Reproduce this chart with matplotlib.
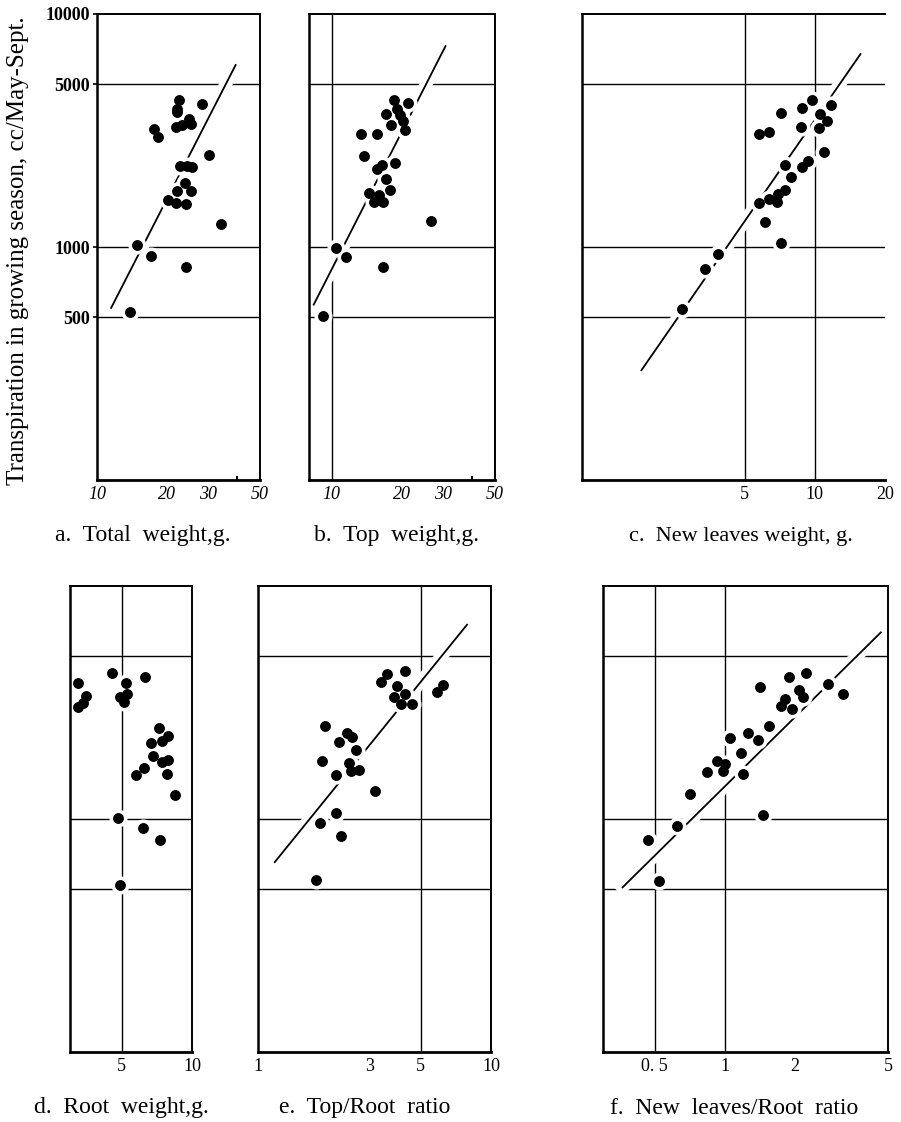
import numpy as np
import matplotlib
matplotlib.use('Agg')
import matplotlib.pyplot as plt
import matplotlib.patheffects as pe
from matplotlib.ticker import FixedLocator, FixedFormatter, NullLocator, NullFormatter

plt.rcParams['font.family'] = ['Liberation Serif', 'DejaVu Serif']

# ---- values (cc transpired May-Sept.) ----
total_weight = [13.8, 14.8, 17.0, 17.5, 18.3, 20.2, 21.9, 22.0, 22.8, 22.4, 22.0, 22.0, 21.8,
                23.1, 23.8, 24.0, 24.0, 24.3, 25.5, 25.3, 24.7, 25.3, 28.1, 30.2, 34.1]
transp_a = [524, 1018, 916, 3200, 2978, 1588, 1539, 1741, 2229, 4264, 3926, 3786, 3266,
            3347, 1884, 1523, 824, 2229, 2213, 1741, 3556, 3381, 4093, 2478, 1258]

top_weight = [9.17, 10.4, 11.5, 13.4, 13.7, 14.5, 15.2, 15.6, 15.6, 16.0, 16.5, 16.6, 16.6,
              17.1, 17.1, 17.7, 18.0, 18.5, 18.6, 19.0, 19.7, 20.2, 20.7, 21.2, 26.5]
transp_b = [506, 990, 909, 3040, 2460, 1698, 1566, 3040, 2153, 1680, 2246, 1566, 824,
            3724, 1954, 1759, 3350, 4285, 2291, 3893, 3680, 3490, 3177, 4139, 1289]

leaves_weight = [2.68, 3.38, 3.85, 5.78, 6.09, 5.74, 6.33, 6.36, 6.87, 6.94, 7.41, 7.17, 7.17,
                 7.45, 7.87, 8.72, 8.77, 8.77, 9.31, 9.68, 10.4, 10.5, 10.9, 11.3, 11.7]
transp_c = [542, 802, 929, 1549, 1286, 3053, 3107, 1603, 1559, 1683, 1762, 1043, 3743,
            2244, 1993, 3275, 3946, 2197, 2335, 4256, 3252, 3717, 2546, 3470, 4083]

root_weight = [3.25, 3.50, 3.42, 3.25, 4.54, 5.22, 4.89, 5.26, 5.11, 6.31, 7.21, 7.87, 6.66,
               7.41, 6.83, 7.41, 7.93, 6.21, 5.77, 7.78, 8.47, 4.80, 6.15, 7.31, 4.93]
transp_d = [3837, 3366, 3155, 3014, 4218, 3837, 3349, 3427, 3178, 4075, 2466, 2281, 2124,
            2153, 1857, 1761, 1793, 1660, 1545, 1566, 1272, 1011, 916, 809, 523]

top_root = [1.78, 1.84, 2.17, 2.27, 1.88, 1.94, 2.16, 2.23, 2.41, 2.54, 2.64, 2.47, 2.51,
            2.72, 3.18, 3.38, 3.57, 3.94, 4.28, 3.84, 4.28, 4.10, 4.58, 5.89, 6.25]
transp_e = [546, 962, 1062, 844, 1774, 2500, 1541, 2134, 2337, 2249, 1986, 1746, 1614,
            1625, 1314, 3875, 4190, 3707, 4334, 3327, 3451, 3104, 3125, 3516, 3762]

leaves_root = [0.466, 0.523, 0.625, 0.710, 0.840, 0.924, 1.0, 0.98, 1.05, 1.17, 1.20, 1.25, 1.39,
               1.41, 1.45, 1.54, 1.74, 1.80, 1.93, 1.89, 2.08, 2.15, 2.23, 2.77, 3.22]
transp_f = [816, 541, 933, 1286, 1599, 1776, 1721, 1614, 2228, 1924, 1553, 2350, 2188,
            3673, 1043, 2519, 3054, 3288, 2978, 4084, 3571, 3345, 4226, 3782, 3427]

# hand-drawn regression lines (end points)
fit_a = ([11.5, 39.3], [548, 6040])
fit_b = ([8.38, 30.7], [566, 7280])
fit_c = ([1.80, 15.7], [296, 6733])
fit_e = ([1.18, 7.89], [653, 6823])
fit_f = ([0.364, 4.66], [509, 6324])

y_grid = [500, 1000, 5000]
y_ticks = [500, 1000, 5000, 10000]

W, H = 901, 1122
fig = plt.figure(figsize=(W / 100, H / 100), dpi=100)


def add_panel(x0, x1, y0, y1):
    return fig.add_axes([x0 / W, 1 - y1 / H, (x1 - x0) / W, (y1 - y0) / H])


def draw_panel(ax, x, y, xlim, xticks, xlabels, vgrid, fit=None,
               italic=False, dots=(), right=True):
    ax.set_xscale('log')
    ax.set_yscale('log')
    ax.set_xlim(*xlim)
    ax.set_ylim(100, 10000)

    for v in y_grid:
        ax.axhline(v, color='black', lw=1.0, zorder=1)
    for v in vgrid:
        ax.axvline(v, color='black', lw=1.0, zorder=1)

    if fit is not None:
        ax.plot(fit[0], fit[1], color='black', lw=1.3, zorder=2,
                path_effects=[pe.Stroke(linewidth=9, foreground='white'), pe.Normal()])

    ax.plot(x, y, 'o', ms=12, color='white', zorder=3)
    ax.plot(x, y, 'o', ms=6.8, color='black', zorder=4)

    ax.xaxis.set_major_locator(FixedLocator(xticks))
    ax.xaxis.set_major_formatter(FixedFormatter(xlabels))
    ax.xaxis.set_minor_locator(FixedLocator(list(dots)))
    ax.xaxis.set_minor_formatter(NullFormatter())
    ax.yaxis.set_minor_locator(NullLocator())
    ax.tick_params(axis='x', which='both', direction='in', length=0, pad=4,
                   labelsize=13)
    if dots:
        ax.tick_params(axis='x', which='minor', length=3, width=1.5)
    for lab in ax.get_xticklabels():
        lab.set_fontstyle('italic' if italic else 'normal')

    for name, sp in ax.spines.items():
        sp.set_linewidth(1.4)
        sp.set_zorder(5)
    ax.spines['bottom'].set_linewidth(2.0)
    ax.spines['left'].set_linewidth(1.8)
    if not right:
        ax.spines['right'].set_visible(False)


# row 1
ax_a = add_panel(97, 260, 14, 480)
draw_panel(ax_a, total_weight, transp_a, (10, 50), [10, 20, 30, 50],
           ['10', '20', '30', '50'], [], fit=fit_a, italic=True, dots=[20, 30, 40])
ax_a.yaxis.set_major_locator(FixedLocator(y_ticks))
ax_a.yaxis.set_major_formatter(FixedFormatter(['500', '1000', '5000', '10000']))
ax_a.tick_params(axis='y', direction='out', length=3, width=1.2, pad=2, labelsize=13)
for lab in ax_a.get_yticklabels():
    lab.set_fontweight('bold')

ax_b = add_panel(309, 495, 14, 480)
draw_panel(ax_b, top_weight, transp_b, (8, 50), [10, 20, 30, 50],
           ['10', '20', '30', '50'], [10], fit=fit_b, italic=True, dots=[20, 30, 40])

ax_c = add_panel(582, 885, 14, 480)
draw_panel(ax_c, leaves_weight, transp_c, (1, 20), [5, 10, 20],
           ['5', '10', '20'], [5, 10], fit=fit_c, dots=[20], right=False)

# row 2
ax_d = add_panel(70, 192, 586, 1052)
draw_panel(ax_d, root_weight, transp_d, (3, 10), [5, 10], ['5', '10'], [5])

ax_e = add_panel(258, 491, 586, 1052)
draw_panel(ax_e, top_root, transp_e, (1, 10), [1, 3, 5, 10],
           ['1', '3', '5', '10'], [5], fit=fit_e)

ax_f = add_panel(603, 888, 586, 1052)
draw_panel(ax_f, leaves_root, transp_f, (0.3, 5), [0.5, 1, 2, 5],
           ['0. 5', '1', '2', '5'], [0.5, 1], fit=fit_f)

for ax in [ax_b, ax_c, ax_d, ax_e, ax_f]:
    ax.yaxis.set_major_locator(NullLocator())

# captions
captions = [
    (143, 535, 'a.  Total  weight,g.', 17),
    (396, 535, 'b.  Top  weight,g.', 17),
    (741, 537, 'c.  New leaves weight, g.', 16),
    (121, 1108, 'd.  Root  weight,g.', 17),
    (365, 1108, 'e.  Top/Root  ratio', 17),
    (734, 1108, 'f.  New  leaves/Root  ratio', 17),
]
for cx, cy, txt, fs in captions:
    fig.text(cx / W, 1 - cy / H, txt, ha='center', va='center', fontsize=fs)

fig.text(18 / W, 1 - 251 / H, 'Transpiration in growing season, cc/May-Sept.',
         rotation=90, ha='center', va='center', fontsize=18)

fig.savefig('out.png', dpi=100, facecolor='white')
